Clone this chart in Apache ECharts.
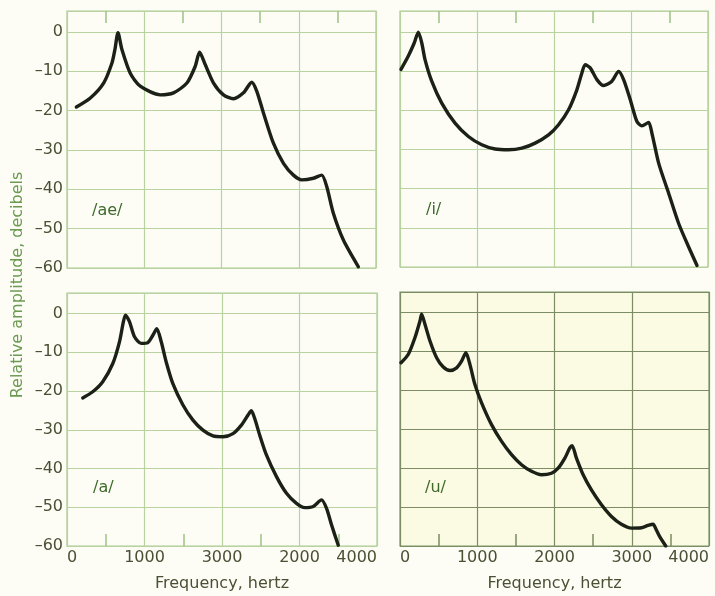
<!DOCTYPE html>
<html>
<head>
<meta charset="utf-8">
<script src="https://cdn.jsdelivr.net/npm/echarts@6/dist/echarts.min.js"></script>
<style>
html,body{margin:0;padding:0;background:#fdfdf6;}
#chart{width:715px;height:596px;}
</style>
</head>
<body>
<div id="chart"></div>
<script>
// Frequency (Hz) / relative amplitude (dB)
const aeFreq = [121,302,474,582,620,660,711,819,948,1207,1379,1552,1659,1716,1789,1897,2026,2155,2284,2392,2457,2543,2672,2802,2931,3039,3190,3297,3362,3448,3578,3772];
const aeDb   = [-19.1,-16.8,-13,-7.9,-4.5,-0.2,-4.5,-10.5,-13.8,-16,-15.5,-13,-8.8,-5.2,-8.3,-13,-16,-17,-15.5,-12.8,-15.1,-20.6,-28.3,-33.4,-36.4,-37.6,-37.2,-36.4,-39.3,-46.1,-52.9,-59.7];

const iFreq = [13,108,186,238,282,325,412,542,715,888,1062,1235,1408,1582,1755,1929,2059,2189,2297,2362,2405,2470,2557,2644,2752,2839,2904,2990,3077,3142,3229,3272,3359,3489,3619,3749,3857];
const iDb   = [-9.6,-6.2,-2.8,-0.1,-2.8,-7.1,-12.6,-18.2,-23.3,-26.7,-28.8,-29.9,-30.1,-29.7,-28.4,-26.3,-23.7,-19.9,-14.8,-10.5,-8.4,-9.2,-12.2,-13.7,-12.6,-10.1,-12.2,-17.3,-22.9,-24,-23.1,-25.9,-33.5,-41.2,-48.9,-54.9,-59.6];

const aFreq = [203,332,461,591,677,728,754,806,871,957,1043,1108,1159,1216,1280,1366,1496,1625,1754,1884,2013,2142,2250,2336,2379,2422,2487,2573,2703,2832,2961,3069,3177,3284,3349,3414,3500];
const aDb   = [-21.8,-20.2,-17.6,-12.9,-7.3,-2.1,-0.4,-2.1,-6,-7.7,-7.5,-5.6,-3.9,-7.3,-12.5,-18.1,-23.6,-27.5,-30.1,-31.6,-31.8,-31,-28.8,-26.2,-25.1,-27.1,-31.4,-36.5,-42.1,-46.4,-49,-50.1,-49.8,-48.1,-50.3,-54.6,-59.8];

const uFreq = [13,108,194,259,280,323,388,474,560,647,733,797,853,905,970,1056,1185,1315,1444,1573,1703,1832,1961,2047,2134,2198,2228,2284,2371,2478,2608,2737,2866,2996,3125,3211,3276,3319,3362,3440];
const uDb   = [-12.9,-10.7,-6.4,-2.1,-0.4,-3,-7.3,-11.6,-14,-14.9,-14.2,-12.5,-10.3,-13.3,-18.5,-23.2,-28.8,-33.1,-36.5,-39.1,-40.8,-41.7,-41.3,-40,-37.4,-34.8,-34.2,-37.4,-41.7,-45.6,-49.4,-52.4,-54.4,-55.4,-55.3,-54.7,-54.4,-55.9,-57.6,-60];

const yTickLabels  = ["–60","–50","–40","–30","–20","–10","0"];
const xTickLabelsA = ["0","1000","3000","2000","4000"];   // as printed in the reference (bottom-left)
const xTickLabelsU = ["0","1000","2000","3000","4000"];   // bottom-right
const vowelLabels  = ["/ae/","/i/","/a/","/u/"];

const pair = (xs, ys) => xs.map((x, i) => [x, ys[i]]);

const gridLine = '#b8d2a0';
const gridLineDark = '#7c8c64';
const textCol = '#4a5034';
const fontFam = '"DejaVu Sans", sans-serif';

const grids = [
  {left:67, top:11, width:309, height:257},
  {left:400, top:11, width:308, height:256},
  {left:67, top:293, width:310, height:253},
  {left:400, top:292, width:309, height:254}
].map((g, i) => Object.assign({
  show: true,
  borderColor: i === 3 ? '#7c9a66' : '#a9c98f',
  borderWidth: 1.2,
  backgroundColor: i === 3 ? '#fbfae3' : 'transparent'
}, g));

function xAxis(i) {
  const bottom = i >= 2;
  const labels = i === 2 ? xTickLabelsA : xTickLabelsU;
  const lc = i === 3 ? gridLineDark : gridLine;
  return {
    type: 'value', gridIndex: i, min: 0, max: 4000, interval: 1000,
    position: bottom ? 'bottom' : 'top',
    axisLine: {show: false, onZero: false},
    axisTick: {show: false, inside: true},
    minorTick: {show: true, splitNumber: 2, length: 12, lineStyle: {color: i === 3 ? gridLineDark : '#9fc285', width: 1.5}},
    splitLine: {show: true, lineStyle: {color: lc, width: 1.2}},
    axisLabel: {
      show: bottom, color: textCol, fontSize: 16, fontFamily: fontFam, margin: 4,
      alignMinLabel: 'left', alignMaxLabel: 'right',
      formatter: v => labels[Math.round(v / 1000)] ?? ''
    },
    name: bottom ? 'Frequency, hertz' : '',
    nameLocation: 'middle', nameGap: 30,
    nameTextStyle: {color: textCol, fontSize: 16, fontFamily: fontFam}
  };
}

function yAxis(i) {
  const left = (i % 2) === 0;
  const lc = i === 3 ? gridLineDark : gridLine;
  return {
    type: 'value', gridIndex: i, min: -60, max: 5.3, interval: 10,
    axisLine: {show: false, onZero: false},
    axisTick: {show: false},
    splitLine: {show: true, lineStyle: {color: lc, width: 1.2}},
    axisLabel: {
      show: left, color: textCol, fontSize: 16, fontFamily: fontFam, margin: 4,
      showMaxLabel: false,
      formatter: v => {
        const k = (v + 60) / 10;
        return Number.isInteger(Math.round(k * 1000) / 1000) ? (yTickLabels[Math.round(k)] ?? '') : '';
      }
    }
  };
}

const datasets = [pair(aeFreq, aeDb), pair(iFreq, iDb), pair(aFreq, aDb), pair(uFreq, uDb)];

const series = datasets.map((d, i) => ({
  type: 'line', xAxisIndex: i, yAxisIndex: i, data: d,
  showSymbol: false, smooth: 0.25, silent: true,
  lineStyle: {color: '#1c2117', width: 3.4, cap: 'round', join: 'round'}
}));

const labelPos = [[92, 203], [426, 202], [93, 480], [425, 480]];
const graphics = vowelLabels.map((t, i) => ({
  type: 'text', left: labelPos[i][0], top: labelPos[i][1],
  style: {text: t, fill: '#3f6a2c', font: '16px ' + fontFam}
}));
graphics.push({
  type: 'text', rotation: Math.PI / 2, x: 18, y: 285,
  style: {text: 'Relative amplitude, decibels', fill: '#6c9a52', font: '16px ' + fontFam,
          textAlign: 'center', textVerticalAlign: 'middle'}
});

const chart = echarts.init(document.getElementById('chart'), null, {renderer: 'canvas'});
chart.setOption({
  backgroundColor: '#fdfdf6',
  animation: false,
  grid: grids,
  xAxis: [0,1,2,3].map(xAxis),
  yAxis: [0,1,2,3].map(yAxis),
  series: series,
  graphic: graphics
});
</script>
</body>
</html>
